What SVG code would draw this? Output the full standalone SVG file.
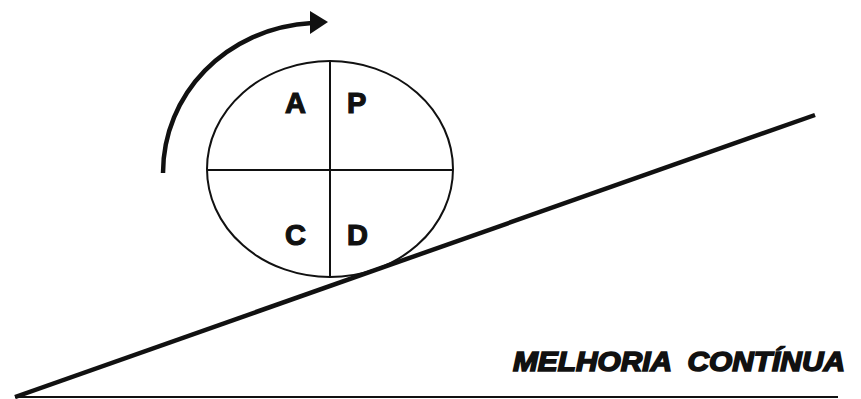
<svg xmlns="http://www.w3.org/2000/svg" width="861" height="399" viewBox="0 0 861 399">
<defs>
<style>
.thin{fill:none;stroke:#111;stroke-width:2}
.thick{fill:none;stroke:#111;stroke-width:4.5}
.lbl{font-family:"Liberation Sans",Arial,sans-serif;font-weight:bold;font-size:29px;fill:#111;stroke:#111;stroke-width:1.2}
.title{font-family:"Liberation Sans",Arial,sans-serif;font-weight:bold;font-style:italic;font-size:27px;fill:#111;stroke:#111;stroke-width:1.6}
</style>
</defs>
<rect width="861" height="399" fill="#fff"/>
<g id="connectors">
<path id="rotation-arrow" class="thick" d="M163,173 C163,95 225,28 312,23" stroke-width="5"/>
<polygon points="310,11 328,22 310,34" fill="#111"/>
<line id="slope" class="thick" x1="15" y1="397" x2="815" y2="115"/>
<line id="baseline" class="thin" x1="15" y1="397" x2="838" y2="397"/>
</g>
<g id="pdca">
<ellipse class="thin" cx="330" cy="169" rx="123" ry="108"/>
<line class="thin" x1="330" y1="61" x2="330" y2="277"/>
<line class="thin" x1="207" y1="170" x2="453" y2="170"/>
<text class="lbl" x="285" y="113">A</text>
<text class="lbl" x="347" y="113">P</text>
<text class="lbl" x="285" y="245">C</text>
<text class="lbl" x="347" y="245">D</text>
</g>
<g id="label">
<text class="title" x="513" y="371" textLength="332" lengthAdjust="spacingAndGlyphs" xml:space="preserve">MELHORIA  CONTÍNUA</text>
</g>
</svg>
